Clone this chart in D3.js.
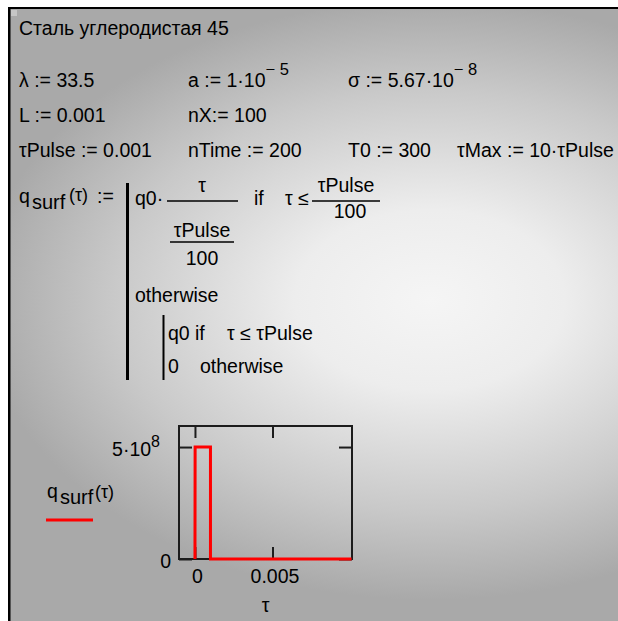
<!DOCTYPE html>
<html>
<head>
<meta charset="utf-8">
<script src="https://cdn.jsdelivr.net/npm/d3@7"></script>
<style>
  body { margin: 0; background: #fff; }
  text { font-family: "Liberation Sans", Arial, sans-serif; fill: #000; }
</style>
</head>
<body>
<div id="canvas"></div>
<script>
// values
const tauValues = [0, 0.00001, 0.001, 0.001, 0.0101]
const qValues = [0, 5e8, 5e8, 0, 0]
const xDomain = [-0.00103, 0.01013]
const yDomain = [0, 5.94e8]
const xTicks = [0, 0.005]
const xTickLabels = ["0", "0.005"]
const yTicks = [0, 5e8]
const yTickLabels = [["0", ""], ["5·10", "8"]]

let svg = {}
let plot = {}

window.onload = function () { setup() }

function setup() {
  setupSVGCanvas()
  drawBackground()
  drawDefinitions()
  drawFunction()
  drawPlot()
}

function setupSVGCanvas() {
  svg = d3.select("#canvas")
    .append("svg")
    .attr("width", 618)
    .attr("height", 621)
}

function drawBackground() {
  let defs = svg.append("defs")
  let grad = defs.append("radialGradient")
    .attr("id", "sheet")
    .attr("gradientUnits", "userSpaceOnUse")
    .attr("cx", 0).attr("cy", 0).attr("r", 300)
    .attr("gradientTransform", "translate(430,300) scale(1.5,1)")
  grad.append("stop").attr("offset", 0).attr("stop-color", "#f5f5f5")
  grad.append("stop").attr("offset", 0.3).attr("stop-color", "#ededed")
  grad.append("stop").attr("offset", 0.7).attr("stop-color", "#c9c9c9")
  grad.append("stop").attr("offset", 1).attr("stop-color", "#a9a9a9")

  svg.append("rect")
    .attr("x", 10).attr("y", 9)
    .attr("width", 608).attr("height", 612)
    .attr("fill", "url(#sheet)")

  // frame lines of the worksheet window
  svg.append("rect").attr("x", 8).attr("y", 7).attr("width", 610).attr("height", 2).attr("fill", "#000")
  svg.append("rect").attr("x", 8).attr("y", 7).attr("width", 2.5).attr("height", 614).attr("fill", "#000")
  svg.append("rect").attr("x", 11).attr("y", 10).attr("width", 6).attr("height", 6).attr("fill", "#c6c6c6")
}

function txt(x, y, s, size, anchor) {
  return svg.append("text")
    .attr("x", x).attr("y", y)
    .attr("font-size", size || 19.5)
    .attr("text-anchor", anchor || "start")
    .text(s)
}

function withPower(x, y, base, power) {
  let t = txt(x, y, base)
  t.append("tspan")
    .attr("dy", -12)
    .attr("font-size", 16.5)
    .text(power)
  return t
}

function drawDefinitions() {
  txt(19, 35, "Сталь углеродистая 45")

  txt(19, 87, "λ := 33.5")
  withPower(188, 87, "a := 1·10", "− 5")
  withPower(348, 87, "σ := 5.67·10", "− 8")

  txt(19, 122, "L := 0.001")
  txt(188, 122, "nX:= 100")

  txt(19, 157, "τPulse := 0.001")
  txt(188, 157, "nTime := 200")
  txt(348, 157, "T0 := 300")
  txt(457, 157, "τMax := 10·τPulse")
}

function hline(x1, x2, y, w) {
  svg.append("line")
    .attr("x1", x1).attr("x2", x2)
    .attr("y1", y).attr("y2", y)
    .attr("stroke", "#000").attr("stroke-width", w || 1.5)
}

function vline(x, y1, y2, w) {
  svg.append("line")
    .attr("x1", x).attr("x2", x)
    .attr("y1", y1).attr("y2", y2)
    .attr("stroke", "#000").attr("stroke-width", w)
}

function drawFunction() {
  txt(19, 203, "q")
  txt(32, 209, "surf", 20)
  txt(69, 201, "(τ)", 18)
  txt(97, 203, ":=")

  vline(127.5, 183, 380, 3)

  txt(135, 205, "q0·")
  txt(202, 192, "τ", 19.5, "middle")
  hline(167, 238, 201)
  txt(202, 237, "τPulse", 19.5, "middle")
  hline(170, 234, 242)
  txt(202, 265, "100", 19.5, "middle")

  txt(254, 205, "if")
  txt(285, 205, "τ ≤")
  txt(346, 192, "τPulse", 19.5, "middle")
  hline(312, 380, 201)
  txt(350, 218, "100", 19.5, "middle")

  txt(135, 302, "otherwise")

  vline(163.5, 315, 380, 2)
  txt(168, 340, "q0")
  txt(195, 340, "if")
  txt(227, 340, "τ ≤ τPulse")
  txt(168, 373, "0")
  txt(200, 373, "otherwise")
}

function drawPlot() {
  let x = d3.scaleLinear().domain(xDomain).range([179, 352])
  let y = d3.scaleLinear().domain(yDomain).range([559, 426])

  plot = svg.append("g")

  // frame
  plot.append("rect")
    .attr("x", x.range()[0]).attr("y", y.range()[1])
    .attr("width", x.range()[1] - x.range()[0])
    .attr("height", y.range()[0] - y.range()[1])
    .attr("fill", "none")
    .attr("stroke", "#1c1c1c")
    .attr("stroke-width", 2)

  let axes = [
    d3.axisBottom(x).tickValues(xTicks).tickSize(-12).tickFormat(""),
    d3.axisTop(x).tickValues(xTicks).tickSize(-12).tickFormat(""),
    d3.axisLeft(y).tickValues(yTicks).tickSize(-13).tickFormat(""),
    d3.axisRight(y).tickValues(yTicks).tickSize(-13).tickFormat("")
  ]
  let shifts = ["translate(0,559)", "translate(0,426)", "translate(179,0)", "translate(352,0)"]
  axes.forEach((a, i) => {
    let g = plot.append("g").attr("transform", shifts[i]).call(a)
    g.select(".domain").remove()
    g.selectAll(".tick line").attr("stroke", "#1c1c1c").attr("stroke-width", 2)
  })

  // tick labels
  plot.selectAll(".xlab")
    .data(xTicks)
    .join("text")
    .attr("class", "xlab")
    .attr("x", d => x(d) + 2.5)
    .attr("y", 583)
    .attr("text-anchor", "middle")
    .attr("font-size", 19.5)
    .text((d, i) => xTickLabels[i])

  plot.selectAll(".ylab")
    .data(yTicks)
    .join("text")
    .attr("class", "ylab")
    .attr("x", 171)
    .attr("y", d => y(d) + 9)
    .attr("text-anchor", "end")
    .attr("font-size", 19.5)
    .text((d, i) => yTickLabels[i][0])
    .each(function (d, i) {
      if (yTickLabels[i][1]) {
        d3.select(this).attr("x", 160)
          .append("tspan")
          .attr("dy", -9)
          .attr("font-size", 16)
          .text(yTickLabels[i][1])
      }
    })

  plot.append("text")
    .attr("x", (x.range()[0] + x.range()[1]) / 2)
    .attr("y", 612)
    .attr("text-anchor", "middle")
    .attr("font-size", 19.5)
    .text("τ")

  // the trace
  let line = d3.line()
    .x(d => x(d[0]))
    .y(d => y(d[1]))

  plot.append("path")
    .datum(tauValues.map((t, i) => [t, qValues[i]]))
    .attr("d", line)
    .attr("fill", "none")
    .attr("stroke", "#ff0000")
    .attr("stroke-width", 3)

  // trace legend
  txt(47, 498, "q")
  txt(60, 504, "surf", 20)
  txt(95, 498, "(τ)", 18)
  plot.append("line")
    .attr("x1", 46).attr("x2", 93)
    .attr("y1", 520).attr("y2", 520)
    .attr("stroke", "#ff0000")
    .attr("stroke-width", 3)
}
</script>
</body>
</html>
